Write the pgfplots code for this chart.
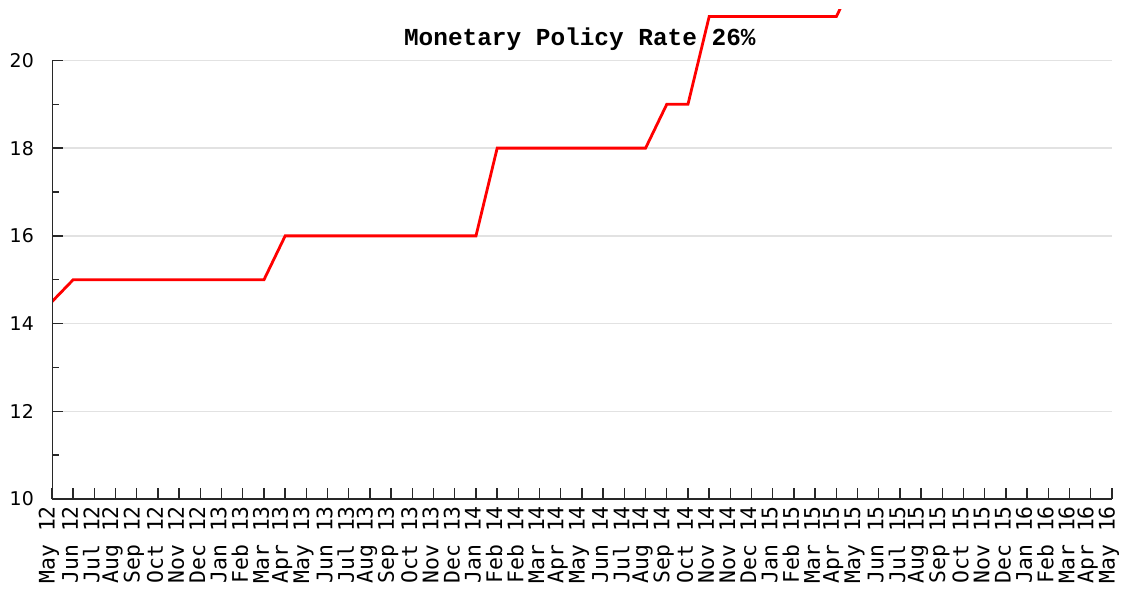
\documentclass[border=0pt]{standalone}
\usepackage{pgfplots}
\pgfplotsset{compat=1.18}
\usepackage{fontspec}
\setmainfont{DejaVu Sans}
\newfontfamily\monofont{DejaVu Sans Mono}
\newfontfamily\titlefont{Liberation Mono}
\definecolor{axgray}{RGB}{40,40,40}
\definecolor{gridgray}{RGB}{226,226,226}
\begin{document}
\begin{tikzpicture}
\useasboundingbox (-52bp,-91bp) rectangle (1071bp,499bp);
\begin{axis}[
  at={(0,0)}, anchor=south west,
  scale only axis,
  width=1060bp, height=489bp,
  xmin=0, xmax=50,
  ymin=10, ymax=21.15,
  axis x line*=bottom,
  axis y line*=left,
  y axis line style={draw=none},
  x axis line style={draw=axgray, line width=1.6bp},
  tick align=inside,
  major tick length=11bp,
  minor tick length=7bp,
  every tick/.style={draw=axgray, line width=1.4bp},
  ytick={10,12,14,16,18,20},
  yticklabels={10,12,14,16,18,20},
  minor ytick={11,13,15,17,19},
  ymajorgrids,
  major grid style={draw=gridgray, line width=1.4bp},
  yticklabel style={font=\fontsize{19}{19}\selectfont, anchor=east, inner sep=0pt, xshift=-18bp},
  xtick={0,...,50},
  xticklabels={May 12,Jun 12,Jul 12,Aug 12,Sep 12,Oct 12,Nov 12,Dec 12,Jan 13,Feb 13,Mar 13,Apr 13,May 13,Jun 13,Jul 13,Aug 13,Sep 13,Oct 13,Nov 13,Dec 13,Jan 14,Feb 14,Feb 14,Mar 14,Apr 14,May 14,Jun 14,Jul 14,Aug 14,Sep 14,Oct 14,Nov 14,Nov 14,Dec 14,Jan 15,Feb 15,Mar 15,Apr 15,May 15,Jun 15,Jul 15,Aug 15,Sep 15,Oct 15,Nov 15,Dec 15,Jan 16,Feb 16,Mar 16,Apr 16,May 16},
  xticklabel style={font=\monofont\fontsize{21.5}{21.5}\selectfont, rotate=90, anchor=east, inner sep=0pt, xshift=-7bp, yshift=3bp},
  title={Monetary Policy Rate 26\%},
  title style={font=\titlefont\bfseries\fontsize{24.5}{24.5}\selectfont, at={(0.498,0.929)}, anchor=center, inner sep=0pt},
  clip=true,
]
\addplot[color=red, line width=2.8bp, line join=miter] coordinates {
(0,14.5) (1,15) (10,15) (11,16) (20,16) (21,18) (28,18) (29,19) (30,19) (31,21) (37,21) (38,22) (41,22) (42,24) (44,24) (45,26) (50,26)
};
\draw[axgray, line width=1.6bp] (axis cs:0,10) -- (axis cs:0,20);
\end{axis}
\end{tikzpicture}
\end{document}
